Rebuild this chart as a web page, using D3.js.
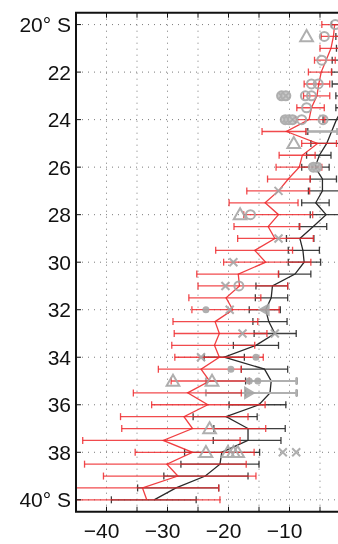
<!DOCTYPE html>
<html lang="en">
<head>
    <meta charset="UTF-8">
    <title>Latitude profile</title>
    <style>
        body { margin: 0; background: white; }
        svg { display: block; font-family: "Liberation Sans", Arial, sans-serif; }
    </style>
    <script src="https://d3js.org/d3.v7.min.js"></script>
</head>
<body>
<div id="chart"></div>
<script>
// latitude rows (degrees south)
const lats = [20, 20.5, 21, 21.5, 22, 22.5, 23, 23.5, 24, 24.5, 25, 25.5, 26, 26.5, 27, 27.5,
    28, 28.5, 29, 29.5, 30, 30.5, 31, 31.5, 32, 32.5, 33, 33.5, 34, 34.5, 35, 35.5,
    36, 36.5, 37, 37.5, 38, 38.5, 39, 39.5, 40];

// red series: mean and error bar ends
const redMean = [-2.6, -2.8, -3.2, -4.0, -4.8, -5.2, -5.5, -6.4, -6.8, -10.5, -5.4, -7.9, -8.4, -10.2, -11.8, -14.0,
    -11.8, -13.5, -12.4, -15.7, -13.9, -18.4, -18.2, -20.4, -19.3, -22.2, -21.5, -22.3, -21.5, -24.5, -23.1, -26.7,
    -23.4, -27.3, -25.9, -30.7, -25.9, -30.1, -28.3, -34.1, -33.4];
const redLo = [-4.7, -4.8, -5.0, -5.9, -6.9, -7.6, -7.7, -8.8, -9.0, -14.5, -8.0, -11.7, -12.2, -13.6, -17.0, -19.9,
    -17.5, -19.1, -18.5, -22.1, -20.8, -25.2, -25.0, -26.5, -26.0, -29.1, -28.9, -29.3, -28.8, -31.5, -29.4, -35.6,
    -32.6, -37.7, -37.5, -43.9, -35.3, -43.6, -40.5, -47.0, -47.0];
const redHi = [-0.8, -0.8, -1.0, -2.5, -3.1, -3.4, -3.4, -4.3, -4.2, -7.3, -2.3, -5.8, -4.7, -6.6, -6.7, -8.6,
    -6.2, -8.3, -6.1, -9.5, -6.5, -11.8, -10.3, -14.7, -11.7, -15.2, -13.7, -15.7, -14.3, -17.9, -16.6, -17.9,
    -14.0, -16.8, -13.9, -18.1, -15.8, -17.1, -15.5, -21.6, -21.4];

// black series: mean and error bar ends
const blackMean = [-0.8, -1.0, -1.0, -1.2, -1.5, -1.5, -1.5, -1.2, -2.3, -3.1, -3.9, -5.1, -5.8, -4.6, -4.6, -5.7,
    -4.0, -6.1, -8.3, -7.8, -7.6, -9.1, -12.8, -13.0, -13.9, -13.4, -12.4, -15.5, -20.7, -14.1, -13.0, -13.2,
    -15.0, -20.4, -16.8, -16.8, -21.1, -21.4, -23.8, -28.6, -32.2];
const blackLo = [-3.1, -2.4, -2.3, -3.0, -3.1, -3.0, -2.4, -2.4, -4.5, -7.0, -6.5, -7.2, -8.0, -6.6, -6.9, -8.0,
    -6.6, -8.4, -10.5, -10.2, -10.2, -11.8, -15.5, -15.6, -16.6, -16.0, -15.8, -19.2, -24.0, -17.9, -17.2, -17.2,
    -19.9, -25.8, -22.4, -22.5, -27.2, -27.8, -30.6, -34.9, -39.2];
const blackHi = [1.5, 1.5, 1.5, 1.0, 1.0, 1.0, 1.0, 1.0, 0.0, 0.5, -1.0, -3.2, -3.5, -2.3, -1.5, -3.5,
    -1.0, -3.9, -6.0, -5.1, -4.9, -6.5, -10.3, -10.3, -11.5, -10.4, -8.9, -11.8, -17.4, -10.3, -8.8, -8.8,
    -10.6, -15.3, -10.7, -11.4, -14.9, -15.0, -16.8, -21.6, -25.3];

// individual grey observations
const obsLat = [20, 20.5, 20.5, 21.5, 22.5, 22.5, 23, 23, 23, 23, 23.5,
    24, 24, 24, 24, 24, 25, 26, 26, 27, 28, 28, 29, 30, 31, 31,
    32, 32, 32, 33, 33, 34, 34, 34.5, 35, 35, 35, 35, 35.5, 37,
    38, 38, 38, 38, 38, 38];
const obsVal = [-2.5, -7.2, -4.3, -4.7, -6.4, -5.3, -11.3, -10.6, -7.4, -6.4, -7.2,
    -10.7, -10.1, -9.5, -8.0, -4.5, -9.3, -6.1, -5.5, -11.8, -18.1, -16.4, -11.8, -19.2, -20.5, -18.3,
    -23.7, -19.8, -13.9, -17.7, -12.4, -24.5, -15.5, -19.6, -29.1, -22.7, -16.6, -15.2, -16.8, -23.1,
    -23.7, -20.1, -19.2, -18.5, -11.1, -8.9];
const obsType = ["o", "^", "o", "o", "o", "o", "O", "O", "o", "o", "o",
    "O", "O", "O", "o", "o", "^", "O", "O", "x", "^", "o", "x", "x", "x", "o",
    ".", "x", "<", "x", "x", "x", ".", ".", "^", "^", ".", ".", ">", "^",
    "^", "^", "^", "^", "x", "x"];

// grey error bars attached to some observations
const obsBarLat = [24.5, 35, 35.5];
const obsBarLo = [-7.3, -23.7, -23.7];
const obsBarHi = [-2.2, -8.9, -8.9];

const xTicks = [-45, -40, -35, -30, -25, -20, -15, -10, -5, 0];
const xLabels = [-40, -30, -20, -10];
const yTicks = [20, 22, 24, 26, 28, 30, 32, 34, 36, 38, 40];

const W = 338, H = 544;
const pLeft = 76, pTop = 12.7, pBottom = 511.7, pRight = 350.5;

const x = d3.scaleLinear().domain([-45, 0]).range([pLeft, pRight]);
const y = d3.scaleLinear().domain([19.5, 40.5]).range([pTop, pBottom]);

const svg = d3.select("#chart").append("svg")
    .attr("width", W)
    .attr("height", H);

svg.append("clipPath").attr("id", "plotclip")
    .append("rect")
    .attr("x", pLeft).attr("y", pTop)
    .attr("width", pRight - pLeft).attr("height", pBottom - pTop);

// dotted grid
const grid = svg.append("g").attr("stroke", "#7a7a7a").attr("stroke-width", 1)
    .attr("stroke-dasharray", "1,5");
grid.selectAll(".gx").data(xTicks.slice(1)).enter().append("line")
    .attr("x1", d => x(d)).attr("x2", d => x(d))
    .attr("y1", pTop).attr("y2", pBottom);
grid.selectAll(".gy").data(yTicks).enter().append("line")
    .attr("x1", pLeft).attr("x2", pRight)
    .attr("y1", d => y(d)).attr("y2", d => y(d));

const plot = svg.append("g").attr("clip-path", "url(#plotclip)");

// error bars helper
function errorBars(g, la, lo, hi, color, width, opacity) {
    const cap = 3.5;
    const grp = g.append("g").attr("stroke", color).attr("stroke-width", width)
        .attr("stroke-opacity", opacity).attr("fill", "none");
    la.forEach((lat, i) => {
        const yy = y(lat);
        grp.append("line").attr("x1", x(lo[i])).attr("x2", x(hi[i]))
            .attr("y1", yy).attr("y2", yy);
        grp.append("line").attr("x1", x(lo[i])).attr("x2", x(lo[i]))
            .attr("y1", yy - cap).attr("y2", yy + cap);
        grp.append("line").attr("x1", x(hi[i])).attr("x2", x(hi[i]))
            .attr("y1", yy - cap).attr("y2", yy + cap);
    });
}

const line = d3.line().x(d => x(d[0])).y(d => y(d[1]));

// black series
errorBars(plot, lats, blackLo, blackHi, "#2a2a2a", 1.3, 0.9);
plot.append("path")
    .datum(blackMean.map((v, i) => [v, lats[i]]))
    .attr("d", line)
    .attr("fill", "none").attr("stroke", "#2a2a2a").attr("stroke-width", 1.3);

// grey bars for single observations
errorBars(plot, obsBarLat, obsBarLo, obsBarHi, "#b0b0b0", 2, 1);

// red series
errorBars(plot, lats, redLo, redHi, "#ee2a2e", 1.3, 0.85);
plot.append("path")
    .datum(redMean.map((v, i) => [v, lats[i]]))
    .attr("d", line)
    .attr("fill", "none").attr("stroke", "#ee2a2e").attr("stroke-width", 1.3)
    .attr("stroke-opacity", 0.9);

// grey observation markers
const obsG = plot.append("g").attr("stroke", "#a6a6a6").attr("stroke-width", 2)
    .attr("fill", "none").attr("opacity", 0.9);
obsLat.forEach((lat, i) => {
    const cx = x(obsVal[i]), cy = y(lat), t = obsType[i];
    if (t === "o") {
        obsG.append("circle").attr("cx", cx).attr("cy", cy).attr("r", 4.5);
    } else if (t === "O") {
        obsG.append("circle").attr("cx", cx).attr("cy", cy).attr("r", 4.5)
            .attr("fill", "#c4c4c4");
        obsG.append("path").attr("d", `M${cx - 3},${cy - 3}L${cx + 3},${cy + 3}M${cx - 3},${cy + 3}L${cx + 3},${cy - 3}`);
    } else if (t === "^") {
        obsG.append("path").attr("d", d3.symbol(d3.symbolTriangle, 70)()).attr("transform", `translate(${cx},${cy + 1})`);
    } else if (t === "<" || t === ">") {
        obsG.append("path").attr("d", d3.symbol(d3.symbolTriangle, 45)())
            .attr("transform", `translate(${cx},${cy}) rotate(${t === "<" ? -90 : 90})`)
            .attr("fill", "#a6a6a6");
    } else if (t === "x") {
        obsG.append("path").attr("d", `M${cx - 4},${cy - 4}L${cx + 4},${cy + 4}M${cx - 4},${cy + 4}L${cx + 4},${cy - 4}`);
    } else {
        obsG.append("circle").attr("cx", cx).attr("cy", cy).attr("r", 2.5).attr("fill", "#a6a6a6");
    }
});

// axes frame
const frame = svg.append("g").attr("stroke", "#111").attr("stroke-width", 2);
frame.append("line").attr("x1", pLeft).attr("x2", pLeft).attr("y1", pTop).attr("y2", pBottom);
frame.append("line").attr("x1", pLeft - 1).attr("x2", W).attr("y1", pTop).attr("y2", pTop);
frame.append("line").attr("x1", pLeft - 1).attr("x2", W).attr("y1", pBottom).attr("y2", pBottom);

// tick marks (inside)
const ticks = svg.append("g").attr("stroke", "#111").attr("stroke-width", 1);
xTicks.slice(1).forEach(t => {
    ticks.append("line").attr("x1", x(t)).attr("x2", x(t)).attr("y1", pTop).attr("y2", pTop + 5);
    ticks.append("line").attr("x1", x(t)).attr("x2", x(t)).attr("y1", pBottom).attr("y2", pBottom - 5);
});
yTicks.forEach(t => {
    ticks.append("line").attr("x1", pLeft).attr("x2", pLeft + 5).attr("y1", y(t)).attr("y2", y(t));
});

// labels
svg.append("g").selectAll("text").data(yTicks).enter().append("text")
    .attr("x", pLeft - 5)
    .attr("y", d => y(d))
    .attr("dy", "0.36em")
    .attr("text-anchor", "end")
    .attr("font-size", 21)
    .attr("fill", "#111")
    .text(d => (d === 20 || d === 40) ? d + "° S" : d);

svg.append("g").selectAll("text").data(xLabels).enter().append("text")
    .attr("x", d => x(d) - 5)
    .attr("y", 538)
    .attr("text-anchor", "middle")
    .attr("font-size", 21)
    .attr("fill", "#111")
    .text(d => "\u2212" + Math.abs(d));
</script>
</body>
</html>
